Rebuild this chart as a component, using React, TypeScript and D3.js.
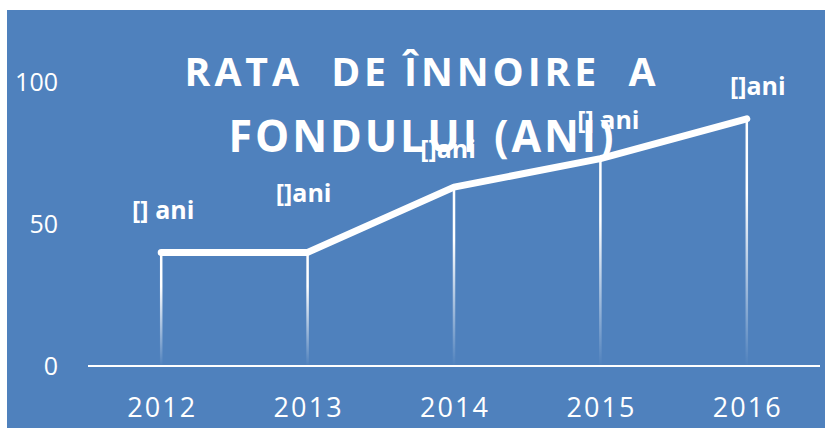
import React, { useEffect, useRef } from 'react';
import * as d3 from 'd3';

const years = ['2012', '2013', '2014', '2015', '2016'];
const values = [40, 40, 63, 73, 87];
const labels = ['[] ani', '[]ani', '[]ani', '[] ani', '[]ani'];
const yTicks = [0, 50, 100];
const titleLines = ['RATA  DE ÎNNOIRE  A', 'FONDULUI (ANI)'];

// hand-placed label offsets (as in the original sheet)
const labelOffsets = [
	{ dx: 2, dy: -33 },
	{ dx: -4, dy: -50 },
	{ dx: -6, dy: -29 },
	{ dx: 8, dy: -30 },
	{ dx: 11, dy: -24 }
];

const App: React.FC = () => {
	const svgRef = useRef<SVGSVGElement>(null);

	useEffect(() => {
		if (svgRef.current == null) return;
		const width = 825;
		const height = 428;
		const font = '"Open Sans", "DejaVu Sans", sans-serif';
		const blue = '#4F81BD';

		const svg = d3.select(svgRef.current)
			.attr('width', width)
			.attr('height', height);
		svg.selectAll('*').remove();

		const x = d3.scalePoint<string>()
			.domain(years)
			.range([88, 820])
			.padding(0.5);
		const y = d3.scaleLinear()
			.domain([0, 100])
			.range([366, 82]);

		const grad = svg.append('defs').append('linearGradient')
			.attr('id', 'drop')
			.attr('x1', 0).attr('y1', 0)
			.attr('x2', 0).attr('y2', 1);
		grad.append('stop').attr('offset', 0).attr('stop-color', '#fff').attr('stop-opacity', 1);
		grad.append('stop').attr('offset', 0.3).attr('stop-color', '#fff').attr('stop-opacity', 1);
		grad.append('stop').attr('offset', 1).attr('stop-color', '#fff').attr('stop-opacity', 0);

		svg.append('rect')
			.attr('width', width).attr('height', height)
			.attr('fill', '#fff');
		svg.append('rect')
			.attr('x', 7).attr('y', 10)
			.attr('width', width - 7).attr('height', height - 10)
			.attr('fill', blue);

		// title, fitted to the width it has in the original
		const titleWidths = [475, 388];
		const titleCenters = [420, 421];
		const titleBase = [86, 152];
		const titleSize = [40, 44];
		const titleSpacing = [4, 3];
		titleLines.forEach((t, i) => {
			const txt = svg.append('text')
				.attr('x', 0)
				.attr('y', 0)
				.attr('text-anchor', 'middle')
				.style('white-space', 'pre')
				.style('font-family', font)
				.style('font-weight', 700)
				.style('font-size', `${titleSize[i]}px`)
				.style('letter-spacing', `${titleSpacing[i]}px`)
				.style('fill', '#fff')
				.text(t);
			const w = (txt.node() as SVGTextElement).getComputedTextLength() || titleWidths[i];
			txt.attr('transform', `translate(${titleCenters[i] + titleSpacing[i] / 2},${titleBase[i]}) scale(${titleWidths[i] / w},1)`);
		});

		// y tick labels
		yTicks.forEach(t => {
			svg.append('text')
				.attr('x', 58)
				.attr('y', y(t))
				.attr('dy', '0.35em')
				.attr('text-anchor', 'end')
				.style('font-family', font)
				.style('font-size', '25px')
				.style('fill', '#fff')
				.text(t);
		});

		// x labels
		years.forEach(yr => {
			svg.append('text')
				.attr('x', x(yr)!)
				.attr('y', 417)
				.attr('text-anchor', 'middle')
				.attr('textLength', 68)
				.attr('lengthAdjust', 'spacing')
				.style('font-family', font)
				.style('font-size', '27px')
				.style('fill', '#fff')
				.text(yr);
		});

		// drop lines
		years.forEach((yr, i) => {
			svg.append('rect')
				.attr('x', x(yr)! - 1.25)
				.attr('y', y(values[i]))
				.attr('width', 2.5)
				.attr('height', y(0) - y(values[i]))
				.attr('fill', 'url(#drop)');
		});

		// axis
		svg.append('line')
			.attr('x1', 88).attr('x2', 820)
			.attr('y1', y(0)).attr('y2', y(0))
			.attr('stroke', '#fff')
			.attr('stroke-width', 2);

		const line = d3.line<number>()
			.x((_, i) => x(years[i])!)
			.y(d => y(d));
		svg.append('path')
			.attr('d', line(values))
			.attr('fill', 'none')
			.attr('stroke', '#fff')
			.attr('stroke-width', 7)
			.attr('stroke-linecap', 'round')
			.attr('stroke-linejoin', 'round');

		labels.forEach((l, i) => {
			svg.append('text')
				.attr('x', x(years[i])! + labelOffsets[i].dx)
				.attr('y', y(values[i]) + labelOffsets[i].dy)
				.attr('text-anchor', 'middle')
				.style('white-space', 'pre')
				.style('font-family', font)
				.style('font-weight', 700)
				.style('font-size', '25px')
				.style('fill', '#fff')
				.text(l);
		});
	}, []);

	return <svg ref={svgRef} style={{ position: 'absolute', left: 0, top: 0, display: 'block' }}></svg>;
};

export default App;
